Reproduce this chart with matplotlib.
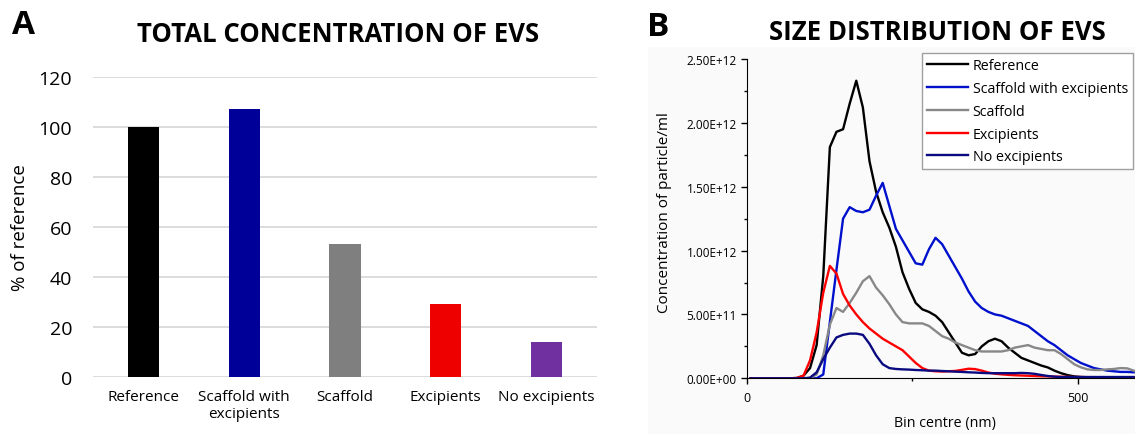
import matplotlib
matplotlib.use('Agg')
import matplotlib.pyplot as plt
from matplotlib.patches import Rectangle
from matplotlib.ticker import MultipleLocator, FuncFormatter

plt.rcParams['font.family'] = ['Open Sans', 'DejaVu Sans']

# Panel A: total concentration (% of reference)
groups = ['Reference', 'Scaffold with\nexcipients', 'Scaffold', 'Excipients', 'No excipients']
pct_of_ref = [100, 107, 53, 29, 14]
bar_colors = ['#000000', '#000099', '#7f7f7f', '#ee0000', '#7030a0']

# Panel B: size distribution (bin centre in nm, concentration in 1e12 particles/ml)
bin_centre = list(range(5, 595, 10))
reference = [0, 0, 0, 0, 0, 0, 0, 0.002,
             0.02, 0.08, 0.26, 0.80, 1.81, 1.93, 1.95, 2.15, 2.33, 2.12,
             1.70, 1.46, 1.30, 1.18, 1.03, 0.83, 0.70, 0.59, 0.54, 0.52,
             0.49, 0.44, 0.36, 0.28, 0.20, 0.18, 0.19, 0.25, 0.29, 0.31,
             0.29, 0.24, 0.20, 0.16, 0.14, 0.12, 0.10, 0.085, 0.06, 0.04,
             0.025, 0.015, 0.01, 0.008, 0.006, 0.005, 0.004, 0.004, 0.003, 0.003,
             0.003]
scaffold_exc = [0, 0, 0, 0, 0, 0, 0, 0, 0, 0, 0,
                0.03, 0.44, 0.85, 1.25, 1.34, 1.31, 1.30, 1.32, 1.43, 1.53,
                1.35, 1.17, 1.08, 0.99, 0.90, 0.89, 1.01, 1.10, 1.05, 0.96,
                0.87, 0.78, 0.68, 0.60, 0.55, 0.52, 0.50, 0.49, 0.47, 0.45,
                0.43, 0.41, 0.37, 0.33, 0.29, 0.26, 0.22, 0.18, 0.15, 0.12,
                0.10, 0.08, 0.07, 0.06, 0.055, 0.05, 0.05, 0.047]
scaffold = [0, 0, 0, 0, 0, 0, 0, 0, 0, 0.002,
            0.03, 0.18, 0.42, 0.55, 0.52, 0.59, 0.67, 0.76, 0.80, 0.71,
            0.65, 0.58, 0.50, 0.44, 0.43, 0.43, 0.43, 0.41, 0.37, 0.33,
            0.31, 0.28, 0.26, 0.24, 0.22, 0.21, 0.21, 0.21, 0.21, 0.22,
            0.24, 0.25, 0.26, 0.24, 0.23, 0.22, 0.22, 0.19, 0.15, 0.11,
            0.086, 0.07, 0.065, 0.065, 0.07, 0.073, 0.08, 0.078, 0.06]
excipients = [0, 0, 0, 0, 0, 0, 0, 0.003,
              0.02, 0.14, 0.36, 0.67, 0.88, 0.82, 0.66, 0.57, 0.50, 0.44,
              0.39, 0.35, 0.31, 0.28, 0.25, 0.22, 0.17, 0.12, 0.08, 0.06,
              0.055, 0.053, 0.055, 0.058, 0.066, 0.075, 0.072, 0.06, 0.045, 0.036,
              0.031, 0.027, 0.024, 0.022, 0.020, 0.018, 0.016, 0.015, 0.013, 0.012,
              0.011, 0.010, 0.010, 0.009, 0.009, 0.008, 0.008, 0.008, 0.008, 0.008,
              0.008]
no_exc = [0, 0, 0, 0, 0, 0, 0, 0, 0,
          0.005, 0.047, 0.15, 0.24, 0.32, 0.34, 0.35, 0.35, 0.34, 0.27,
          0.18, 0.11, 0.08, 0.073, 0.07, 0.068, 0.065, 0.063, 0.06, 0.06,
          0.057, 0.055, 0.052, 0.05, 0.047, 0.045, 0.042, 0.04, 0.04, 0.04,
          0.04, 0.04, 0.042, 0.04, 0.035, 0.026, 0.018, 0.013, 0.01, 0.01,
          0.01, 0.01, 0.01, 0.01, 0.01, 0.01, 0.01, 0.01, 0.01, 0.01]
series = [('Reference', reference, '#000000'),
          ('Scaffold with excipients', scaffold_exc, '#0010cc'),
          ('Scaffold', scaffold, '#888888'),
          ('Excipients', excipients, '#ff0000'),
          ('No excipients', no_exc, '#0a0a80')]

W, H = 1135, 435
fig = plt.figure(figsize=(W / 100, H / 100), dpi=100)

# light grey panel behind B
fig.patches.append(Rectangle((648 / W, 0), 1 - 648 / W, 1 - 48 / H,
                             transform=fig.transFigure, facecolor='#fafafa',
                             edgecolor='none', zorder=-5))

# ---- panel A ----
axA = fig.add_axes([93 / W, 1 - 377.7 / H, 504 / W, 300 / H])
axA.bar(range(len(groups)), pct_of_ref, width=0.31, color=bar_colors, zorder=3)
axA.set_xlim(-0.5, 4.5)
axA.set_ylim(0, 120)
axA.set_yticks(range(0, 121, 20))
axA.grid(axis='y', color='#d9d9d9', linewidth=1.3, zorder=0)
axA.set_axisbelow(True)
for s in axA.spines.values():
    s.set_visible(False)
axA.set_xticks(range(len(groups)))
axA.set_xticklabels(groups, fontsize=11)
axA.tick_params(axis='x', length=0, pad=9)
axA.tick_params(axis='y', length=0, pad=15, labelsize=14)
fig.text(20 / W, 1 - 228 / H, '% of reference', rotation=90, fontsize=13.5,
         ha='center', va='center')
fig.text(338 / W, 1 - 34 / H, 'TOTAL CONCENTRATION OF EVS', fontsize=18.5,
         fontweight='bold', ha='center', va='center')
fig.text(23 / W, 1 - 25 / H, 'A', fontsize=24, fontweight='bold',
         ha='center', va='center')

# ---- panel B ----
axB = fig.add_axes([747.3 / W, 1 - 379.3 / H, 1 - 747.3 / W, 319.3 / H])
axB.set_facecolor('none')
for name, vals, col in series:
    axB.plot(bin_centre, [v * 1e12 for v in vals], color=col, linewidth=1.7,
             label=name)
axB.set_xlim(0, 587)
axB.set_ylim(0, 2.5e12)
axB.xaxis.set_major_locator(MultipleLocator(500))
axB.xaxis.set_minor_locator(MultipleLocator(250))
axB.yaxis.set_major_locator(MultipleLocator(5e11))
axB.yaxis.set_minor_locator(MultipleLocator(2.5e11))
axB.yaxis.set_major_formatter(FuncFormatter(lambda v, p: '{:.2E}'.format(v)))
axB.tick_params(which='major', direction='out', length=4, width=1, labelsize=8.5)
axB.tick_params(which='minor', direction='out', length=2.5, width=1)
axB.tick_params(axis='x', labelsize=9, pad=5)
axB.spines['top'].set_visible(False)
axB.spines['right'].set_visible(False)
fig.text(945 / W, 1 - 424 / H, 'Bin centre (nm)', fontsize=10.3,
         ha='center', va='center')
fig.text(665 / W, 1 - 213 / H, 'Concentration of particle/ml', fontsize=11,
         rotation=90, ha='center', va='center')
fig.text(937 / W, 1 - 33 / H, 'SIZE DISTRIBUTION OF EVS', fontsize=18.5,
         fontweight='bold', ha='center', va='center')
fig.text(658 / W, 1 - 27 / H, 'B', fontsize=24, fontweight='bold',
         ha='center', va='center')
leg = axB.legend(loc='upper right', bbox_to_anchor=(1133 / W, 1 - 54 / H),
                 bbox_transform=fig.transFigure, fontsize=10.3, frameon=True,
                 fancybox=False, edgecolor='#a0a0a0', facecolor='white',
                 framealpha=1, handlelength=2.9, handletextpad=0.3,
                 borderpad=0.35, borderaxespad=0, labelspacing=0.55)
leg.get_frame().set_linewidth(1)

fig.savefig('out.png', dpi=100)
